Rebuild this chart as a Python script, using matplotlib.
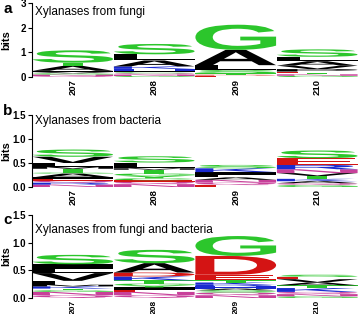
import matplotlib
matplotlib.use("Agg")
import matplotlib.pyplot as plt
from matplotlib.textpath import TextPath
from matplotlib.patches import PathPatch
from matplotlib.font_manager import FontProperties
from matplotlib.transforms import Affine2D

plt.rcParams['font.family'] = ['Liberation Sans', 'DejaVu Sans']

positions = ["207", "208", "209", "210"]
titles = ["Xylanases from fungi", "Xylanases from bacteria", "Xylanases from fungi and bacteria"]
panel_tags = ["a", "b", "c"]

# stacks bottom -> top: letters and heights (bits)
fungi_letters = [list("QNGVIATS"), list("GNQCIHKALS"), list("EDTSLAG"), list("GNTEPVALS")]
fungi_heights = [[0.04, 0.06, 0.05, 0.05, 0.05, 0.20, 0.13, 0.50],
                 [0.04, 0.06, 0.05, 0.04, 0.06, 0.08, 0.10, 0.24, 0.25, 0.42],
                 [0.06, 0.03, 0.06, 0.13, 0.20, 0.62, 1.02],
                 [0.05, 0.06, 0.06, 0.05, 0.10, 0.14, 0.18, 0.18, 0.30]]

bacteria_letters = [list("NRQEIAGTMLVS"), list("NQECYGTMLS"), list("EQNALIKS"), list("GQAKTVNRES")]
bacteria_heights = [[0.05, 0.04, 0.04, 0.04, 0.03, 0.08, 0.02, 0.08, 0.04, 0.08, 0.13, 0.15],
                    [0.06, 0.05, 0.03, 0.04, 0.06, 0.04, 0.08, 0.03, 0.12, 0.13],
                    [0.04, 0.05, 0.06, 0.05, 0.05, 0.06, 0.08, 0.07],
                    [0.04, 0.04, 0.04, 0.05, 0.06, 0.06, 0.08, 0.09, 0.14, 0.16]]

both_letters = [list("QNGTKMFVLIS"), list("QNEIYGTKDAS"), list("NQSAHRKTEDG"), list("GNQKTAVES")]
both_heights = [[0.05, 0.06, 0.03, 0.03, 0.04, 0.03, 0.07, 0.14, 0.07, 0.09, 0.17],
                [0.05, 0.06, 0.04, 0.04, 0.04, 0.03, 0.06, 0.07, 0.07, 0.17, 0.24],
                [0.05, 0.05, 0.04, 0.03, 0.04, 0.03, 0.04, 0.04, 0.10, 0.34, 0.36],
                [0.03, 0.04, 0.04, 0.07, 0.05, 0.05, 0.06, 0.04, 0.04]]

panels_letters = [fungi_letters, bacteria_letters, both_letters]
panels_heights = [fungi_heights, bacteria_heights, both_heights]
ymax = [3.0, 1.5, 1.5]
yticks = [[0, 1, 2, 3], [0, 0.5, 1.0, 1.5], [0, 0.5, 1.0, 1.5]]
yticklabels = [["0", "1", "2", "3"], ["0.0", "0.5", "1.0", "1.5"], ["0.0", "0.5", "1.0", "1.5"]]

colors = {}
for c in "GSTYC":
    colors[c] = "#2cc62c"
for c in "NQ":
    colors[c] = "#c8409a"
for c in "KRH":
    colors[c] = "#1a2ad0"
for c in "DE":
    colors[c] = "#d41414"
for c in "AVLIPWFM":
    colors[c] = "#000000"

fp = FontProperties(family="Liberation Sans", weight="bold")
_cache = {}


def draw_letter(ax, letter, x, y, w, h, color):
    if letter not in _cache:
        _cache[letter] = TextPath((0, 0), letter, size=1, prop=fp)
    tp = _cache[letter]
    bb = tp.get_extents()
    tr = Affine2D().translate(-bb.x0, -bb.y0).scale(w / bb.width, h / bb.height).translate(x, y)
    patch = PathPatch(tr.transform_path(tp), facecolor=color, edgecolor="none", lw=0)
    ax.add_patch(patch)


W, H = 359, 314
fig = plt.figure(figsize=(W / 100, H / 100), dpi=100)

axes_px = [(3, 77), (115, 187), (215, 298)]  # (top, bottom) in pixels
left_px, right_px = 32, 358
title_base = [15, 124, 233]
tag_base = [13, 115, 224]
xlabel_size = [6.8, 6.8, 6.0]

for i in range(3):
    top, bot = axes_px[i]
    ax = fig.add_axes([left_px / W, 1 - bot / H, (right_px - left_px) / W, (bot - top) / H])
    for j, (lets, hts) in enumerate(zip(panels_letters[i], panels_heights[i])):
        y = 0.0
        for L, h in zip(lets, hts):
            draw_letter(ax, L, j + 1 - 0.495, y, 0.99, h, colors[L])
            y += h
    ax.set_xlim(0.5, 4.5)
    ax.set_ylim(0, ymax[i])
    for s in ["top", "right", "bottom"]:
        ax.spines[s].set_visible(False)
    ax.spines["left"].set_linewidth(0.8)
    ax.set_xticks([1, 2, 3, 4])
    ax.set_xticklabels(positions, rotation=90, fontsize=xlabel_size[i], fontweight="bold")
    ax.tick_params(axis="x", length=0, pad=1.2)
    ax.set_yticks(yticks[i])
    ax.set_yticklabels(yticklabels[i], fontsize=7, fontweight="bold")
    ax.tick_params(axis="y", length=3, width=0.8, pad=1.5)
    ax.set_ylabel("bits", fontsize=8, fontweight="bold")
    ax.yaxis.set_label_coords(-0.064, 0.5)
    fig.text(35 / W, 1 - title_base[i] / H, titles[i], fontsize=8.5, va="baseline", ha="left")
    fig.text(3 / W, 1 - tag_base[i] / H, panel_tags[i], fontsize=11, fontweight="bold", va="baseline", ha="left")

fig.savefig("out.png", dpi=100)
